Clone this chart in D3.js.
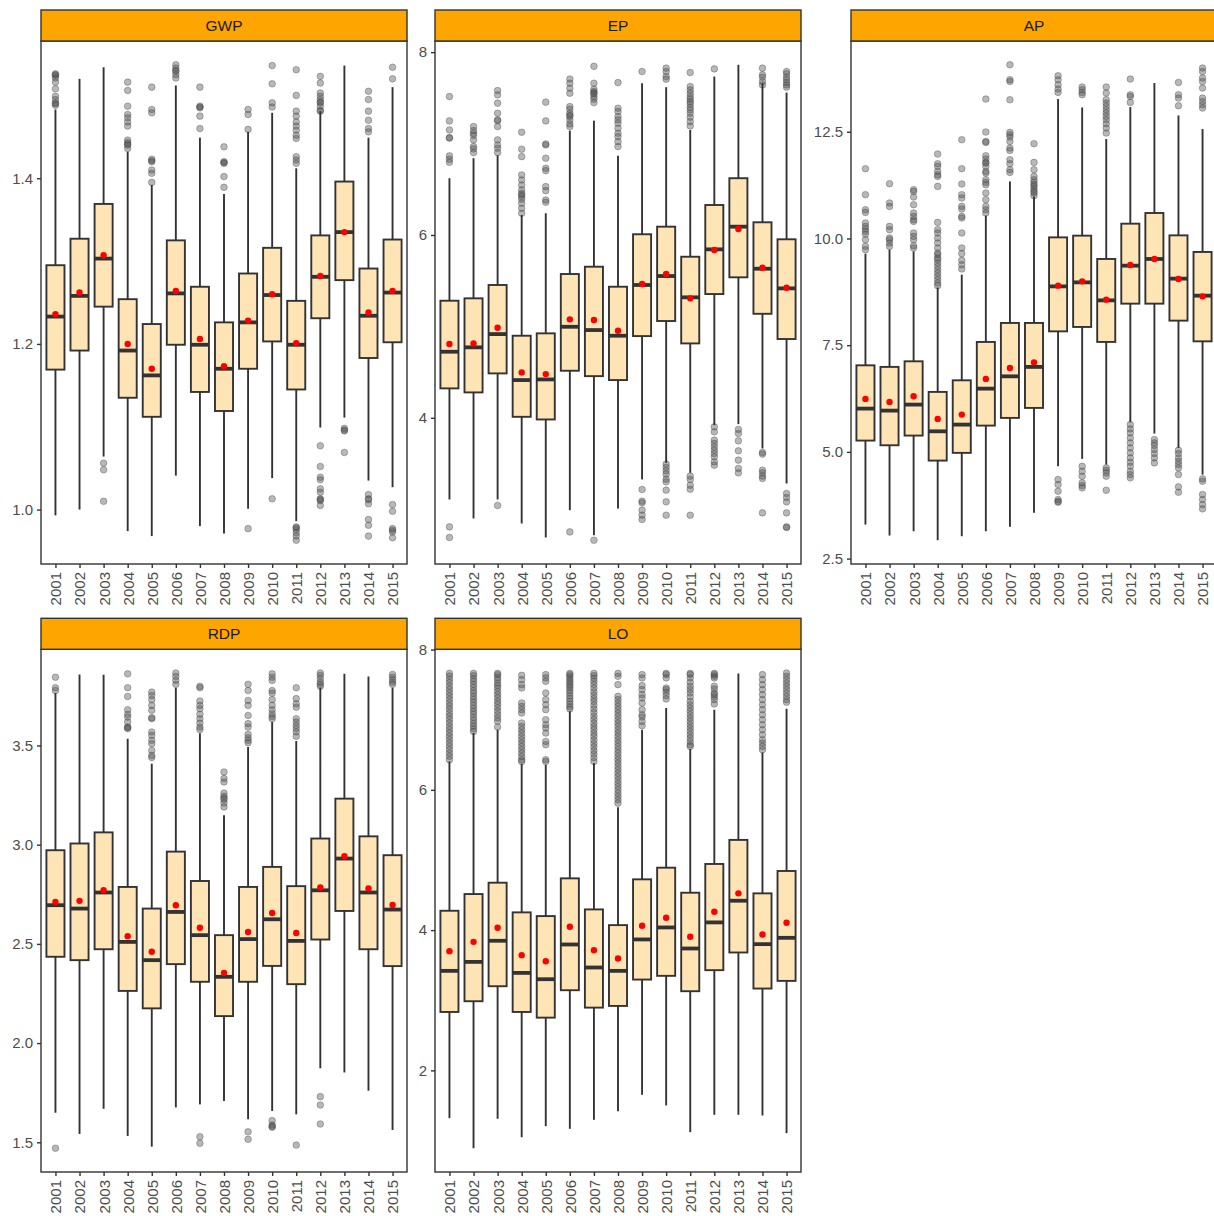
<!DOCTYPE html>
<html>
<head>
<meta charset="utf-8">
<script src="https://cdn.jsdelivr.net/npm/d3@7"></script>
<style>
  body { margin: 0; background: #fff; }
  svg { display: block; }
  text { font-family: "Liberation Sans", Arial, Helvetica, sans-serif; }
</style>
</head>
<body>
<svg id="chart" width="1214" height="1216"></svg>
<script>
// ---- Data: yearly distributions of five indicators (box-plot summaries) ----
const years = ["2001","2002","2003","2004","2005","2006","2007","2008","2009","2010","2011","2012","2013","2014","2015"];

// GWP
const gwpTicks  = [1.0, 1.2, 1.4];
const gwpLower  = [0.993, 1.000, 1.064, 0.974, 0.968, 1.041, 0.980, 0.971, 1.001, 1.038, 0.986, 1.099, 1.111, 1.035, 1.027];
const gwpQ1     = [1.169, 1.192, 1.245, 1.135, 1.112, 1.199, 1.142, 1.119, 1.170, 1.203, 1.145, 1.231, 1.277, 1.183, 1.202];
const gwpMedian = [1.233, 1.258, 1.303, 1.192, 1.162, 1.261, 1.199, 1.170, 1.226, 1.259, 1.199, 1.281, 1.335, 1.234, 1.262];
const gwpQ3     = [1.295, 1.327, 1.369, 1.254, 1.224, 1.325, 1.269, 1.226, 1.285, 1.316, 1.252, 1.331, 1.396, 1.291, 1.326];
const gwpUpper  = [1.483, 1.520, 1.534, 1.432, 1.392, 1.512, 1.449, 1.381, 1.456, 1.479, 1.412, 1.481, 1.536, 1.449, 1.510];
const gwpMean   = [1.236, 1.262, 1.307, 1.200, 1.170, 1.264, 1.206, 1.173, 1.228, 1.260, 1.201, 1.282, 1.335, 1.238, 1.264];
const gwpOutliers = [
  [1.526, 1.525, 1.524, 1.521, 1.516, 1.508, 1.499, 1.495, 1.491, 1.490, 1.488],
  [],
  [1.056, 1.048, 1.010],
  [1.516, 1.506, 1.487, 1.477, 1.473, 1.468, 1.463, 1.446, 1.443, 1.441, 1.440, 1.436],
  [1.510, 1.483, 1.479, 1.423, 1.421, 1.420, 1.410, 1.406, 1.395],
  [1.537, 1.533, 1.530, 1.529, 1.525, 1.521],
  [1.510, 1.487, 1.486, 1.485, 1.475, 1.460],
  [1.438, 1.420, 1.419, 1.418, 1.402, 1.389],
  [1.483, 1.477, 1.459, 0.977],
  [1.536, 1.514, 1.491, 1.486, 1.013],
  [1.531, 1.500, 1.481, 1.475, 1.468, 1.463, 1.458, 1.452, 1.448, 1.426, 1.422, 1.418, 0.979, 0.978, 0.976, 0.972, 0.968, 0.963],
  [1.523, 1.515, 1.503, 1.499, 1.495, 1.492, 1.491, 1.487, 1.482, 1.481, 1.077, 1.052, 1.039, 1.036, 1.025, 1.021, 1.013, 1.012, 1.011, 1.005],
  [1.098, 1.096, 1.095, 1.069],
  [1.505, 1.495, 1.481, 1.470, 1.460, 1.456, 1.018, 1.013, 1.012, 1.007, 0.988, 0.981, 0.968],
  [1.534, 1.520, 1.006, 0.998, 0.977, 0.975, 0.973, 0.966]
];

// EP
const epTicks  = [4, 6, 8];
const epLower  = [3.107, 2.899, 3.107, 2.844, 2.691, 2.990, 2.716, 3.008, 3.326, 3.507, 3.398, 3.920, 3.931, 3.665, 3.282];
const epQ1     = [4.322, 4.278, 4.486, 4.011, 3.982, 4.515, 4.456, 4.413, 4.894, 5.059, 4.814, 5.354, 5.537, 5.138, 4.862];
const epMedian = [4.723, 4.771, 4.916, 4.413, 4.420, 4.996, 4.960, 4.898, 5.453, 5.551, 5.318, 5.843, 6.091, 5.631, 5.416];
const epQ3     = [5.281, 5.307, 5.453, 4.898, 4.924, 5.573, 5.653, 5.434, 6.008, 6.091, 5.762, 6.328, 6.621, 6.139, 5.953];
const epUpper  = [6.621, 6.840, 6.872, 6.219, 6.238, 7.142, 7.251, 6.868, 7.660, 7.617, 7.149, 7.733, 7.862, 7.660, 7.558];
const epMean   = [4.807, 4.814, 4.985, 4.497, 4.478, 5.077, 5.070, 4.952, 5.464, 5.573, 5.307, 5.836, 6.066, 5.642, 5.423];
const epOutliers = [
  [7.514, 7.248, 7.149, 7.065, 7.060, 6.865, 6.829, 6.796, 2.807, 2.691],
  [7.186, 7.142, 7.113, 7.090, 7.040, 6.967, 6.942, 6.901],
  [7.580, 7.533, 7.442, 7.332, 7.259, 7.250, 7.186, 7.040, 6.985, 6.949, 6.901, 3.041],
  [7.124, 6.938, 6.857, 6.657, 6.602, 6.547, 6.493, 6.456, 6.440, 6.419, 6.391, 6.347, 6.292, 6.238],
  [7.453, 7.248, 6.996, 6.985, 6.840, 6.730, 6.704, 6.529, 6.485, 6.383, 6.358],
  [7.706, 7.660, 7.606, 7.551, 7.405, 7.376, 7.332, 7.310, 7.295, 7.259, 7.215, 7.186, 2.752],
  [7.845, 7.660, 7.595, 7.569, 7.555, 7.544, 7.514, 7.486, 7.448, 2.661],
  [7.667, 7.387, 7.350, 7.295, 7.259, 7.223, 7.168, 7.113, 7.076, 7.021, 6.967],
  [7.788, 3.216, 3.088, 3.070, 2.990, 2.935, 2.888],
  [7.825, 7.788, 7.733, 7.705, 3.493, 3.457, 3.420, 3.384, 3.329, 3.300, 3.209, 3.081, 2.935],
  [7.777, 7.623, 7.587, 7.551, 7.514, 7.486, 7.459, 7.434, 7.398, 7.368, 7.332, 7.288, 7.240, 7.193, 3.362, 3.326, 3.263, 3.219, 2.935],
  [7.817, 3.901, 3.847, 3.756, 3.720, 3.683, 3.646, 3.610, 3.573, 3.518, 3.482],
  [3.873, 3.829, 3.748, 3.639, 3.537, 3.446, 3.398],
  [7.825, 7.752, 7.726, 7.678, 7.642, 3.621, 3.603, 3.427, 3.398, 3.362, 3.337, 2.960],
  [7.788, 7.763, 7.726, 7.697, 7.667, 7.642, 7.617, 3.172, 3.129, 3.081, 2.960, 2.807, 2.800]
];

// AP
const apTicks  = [2.5, 5.0, 7.5, 10.0, 12.5];
const apLower  = [3.297, 3.040, 3.140, 2.930, 3.024, 3.140, 3.244, 3.571, 4.663, 4.836, 4.703, 5.693, 5.429, 5.094, 4.468];
const apQ1     = [5.265, 5.155, 5.382, 4.796, 4.977, 5.616, 5.796, 6.030, 7.824, 7.927, 7.576, 8.473, 8.473, 8.075, 7.590];
const apMedian = [6.014, 5.967, 6.108, 5.482, 5.639, 6.482, 6.770, 6.991, 8.878, 8.972, 8.550, 9.363, 9.520, 9.059, 8.660];
const apQ3     = [7.028, 6.991, 7.122, 6.405, 6.677, 7.576, 8.021, 8.021, 10.026, 10.066, 9.520, 10.347, 10.597, 10.073, 9.684];
const apUpper  = [9.644, 9.738, 9.698, 8.850, 9.152, 10.534, 11.337, 10.986, 13.267, 13.070, 12.330, 13.079, 13.642, 12.883, 12.564];
const apMean   = [6.241, 6.171, 6.302, 5.773, 5.874, 6.710, 6.967, 7.098, 8.895, 8.995, 8.567, 9.379, 9.520, 9.052, 8.644];
const apOutliers = [
  [11.635, 11.026, 10.674, 10.611, 10.363, 10.283, 10.222, 10.166, 10.100, 9.972, 9.815, 9.738],
  [11.283, 10.831, 10.752, 10.283, 10.206, 10.012, 9.972, 9.895, 9.815],
  [11.143, 11.103, 10.972, 10.792, 10.597, 10.517, 10.440, 10.400, 10.129, 10.049, 9.972, 9.831, 9.778],
  [11.979, 11.752, 11.689, 11.571, 11.494, 11.454, 11.220, 10.377, 10.206, 10.129, 10.012, 9.895, 9.778, 9.660, 9.621, 9.543, 9.504, 9.426, 9.347, 9.269, 9.192, 9.112, 9.035, 8.958, 8.895],
  [12.314, 11.635, 11.276, 11.026, 10.948, 10.752, 10.691, 10.518, 10.480, 10.129, 9.778, 9.644, 9.487, 9.386, 9.286],
  [13.267, 12.494, 12.274, 12.251, 11.939, 11.862, 11.782, 11.768, 11.689, 11.571, 11.534, 11.377, 11.314, 11.260, 11.066, 10.909, 10.752, 10.674, 10.597],
  [14.070, 13.719, 13.679, 13.250, 12.485, 12.431, 12.377, 12.274, 12.119, 12.063, 11.845, 11.752, 11.611, 11.548],
  [12.220, 11.782, 11.611, 11.454, 11.377, 11.314, 11.260, 11.220, 11.159, 11.103, 11.066, 11.002],
  [13.813, 13.719, 13.602, 13.501, 13.422, 4.351, 4.234, 4.077, 3.883, 3.840, 3.820],
  [13.548, 13.485, 13.422, 13.368, 4.663, 4.546, 4.429, 4.274, 4.211, 4.157],
  [13.548, 13.407, 13.251, 13.173, 13.094, 13.016, 12.939, 12.860, 12.782, 12.689, 12.588, 12.471, 4.625, 4.569, 4.508, 4.429, 4.101],
  [13.735, 13.368, 13.328, 13.188, 5.639, 5.539, 5.445, 5.328, 5.211, 5.094, 4.977, 4.859, 4.757, 4.663, 4.546, 4.468, 4.391],
  [5.288, 5.211, 5.148, 5.054, 4.960, 4.859, 4.742],
  [13.656, 13.368, 13.290, 13.110, 5.037, 4.960, 4.859, 4.780, 4.703, 4.625, 4.468, 4.180, 4.054],
  [13.993, 13.913, 13.759, 13.679, 13.525, 13.290, 13.211, 13.134, 13.056, 4.368, 4.312, 4.000, 3.883, 3.766, 3.665]
];

// RDP
const rdpTicks  = [1.5, 2.0, 2.5, 3.0, 3.5];
const rdpLower  = [1.649, 1.542, 1.669, 1.532, 1.478, 1.676, 1.691, 1.708, 1.616, 1.658, 1.641, 1.873, 1.852, 1.760, 1.562];
const rdpQ1     = [2.435, 2.418, 2.473, 2.263, 2.175, 2.398, 2.309, 2.136, 2.309, 2.389, 2.297, 2.522, 2.666, 2.473, 2.388];
const rdpMedian = [2.695, 2.678, 2.759, 2.510, 2.418, 2.661, 2.544, 2.334, 2.524, 2.624, 2.515, 2.770, 2.930, 2.759, 2.673];
const rdpQ3     = [2.972, 3.006, 3.062, 2.787, 2.678, 2.965, 2.817, 2.544, 2.787, 2.888, 2.791, 3.031, 3.232, 3.042, 2.947];
const rdpUpper  = [3.764, 3.858, 3.856, 3.534, 3.408, 3.791, 3.562, 3.148, 3.492, 3.618, 3.522, 3.791, 3.861, 3.848, 3.791];
const rdpMean   = [2.711, 2.717, 2.770, 2.539, 2.460, 2.695, 2.581, 2.354, 2.560, 2.656, 2.555, 2.784, 2.942, 2.779, 2.696];
const rdpOutliers = [
  [3.844, 3.791, 3.777, 1.470],
  [],
  [],
  [3.861, 3.791, 3.747, 3.680, 3.657, 3.643, 3.618, 3.593, 3.590, 3.585],
  [3.769, 3.752, 3.731, 3.702, 3.677, 3.640, 3.635, 3.568, 3.551, 3.526, 3.509, 3.475, 3.450, 3.439],
  [3.865, 3.848, 3.828, 3.808],
  [3.798, 3.791, 3.724, 3.702, 3.685, 3.657, 3.635, 3.613, 3.593, 3.580, 1.528, 1.495],
  [3.366, 3.333, 3.316, 3.260, 3.244, 3.235, 3.227, 3.210, 3.190],
  [3.808, 3.777, 3.727, 3.702, 3.651, 3.610, 3.593, 3.556, 3.539, 3.526, 3.514, 1.553, 1.515],
  [3.861, 3.844, 3.828, 3.777, 3.764, 3.731, 3.702, 3.680, 3.660, 3.646, 3.635, 1.609, 1.587, 1.580, 1.576],
  [3.791, 3.736, 3.710, 3.693, 3.635, 3.618, 3.601, 3.585, 3.568, 3.546, 1.486],
  [3.865, 3.853, 3.836, 3.819, 3.808, 3.798, 1.730, 1.688, 1.592],
  [],
  [],
  [3.858, 3.844, 3.831, 3.819, 3.808]
];

// LO
const loTicks  = [2, 4, 6, 8];
const loLower  = [1.319, 0.890, 1.310, 1.047, 1.205, 1.167, 1.295, 1.419, 1.652, 1.500, 1.119, 1.367, 1.367, 1.357, 1.105];
const loQ1     = [2.833, 2.986, 3.200, 2.833, 2.752, 3.143, 2.895, 2.919, 3.295, 3.348, 3.129, 3.429, 3.681, 3.167, 3.276];
const loMedian = [3.419, 3.547, 3.848, 3.390, 3.300, 3.795, 3.467, 3.419, 3.867, 4.038, 3.738, 4.110, 4.419, 3.800, 3.890];
const loQ3     = [4.276, 4.514, 4.676, 4.253, 4.200, 4.738, 4.295, 4.071, 4.724, 4.890, 4.533, 4.943, 5.286, 4.524, 4.843];
const loUpper  = [6.404, 6.810, 6.857, 6.371, 6.357, 7.119, 6.381, 5.752, 6.857, 7.167, 6.581, 7.143, 7.657, 6.533, 7.157];
const loMean   = [3.700, 3.833, 4.033, 3.643, 3.557, 4.048, 3.714, 3.595, 4.062, 4.176, 3.905, 4.262, 4.524, 3.938, 4.105];
const loOutliers = [
  [7.660, 7.622, 7.575, 7.531, 7.480, 7.433, 7.386, 7.339, 7.290, 7.241, 7.196, 7.149, 7.098, 7.051, 7.004, 6.956, 6.905, 6.861, 6.812, 6.765, 6.716, 6.669, 6.622, 6.574, 6.523, 6.478, 6.429],
  [7.660, 7.628, 7.584, 7.547, 7.503, 7.462, 7.414, 7.378, 7.331, 7.292, 7.249, 7.204, 7.162, 7.119, 7.081, 7.034, 6.992, 6.948, 6.909, 6.871, 6.833],
  [7.660, 7.641, 7.603, 7.568, 7.522, 7.488, 7.451, 7.403, 7.358, 7.313, 7.262, 7.219, 7.171, 7.122, 7.071, 7.024, 6.978, 6.896],
  [7.633, 7.571, 7.500, 7.453, 7.239, 7.190, 7.143, 7.096, 6.953, 6.904, 6.857, 6.810, 6.761, 6.714, 6.667, 6.619, 6.571, 6.524, 6.476, 6.429, 6.404],
  [7.643, 7.596, 7.547, 7.381, 7.286, 7.214, 7.143, 7.000, 6.929, 6.881, 6.810, 6.690, 6.643, 6.429, 6.404],
  [7.660, 7.641, 7.612, 7.581, 7.548, 7.519, 7.488, 7.457, 7.421, 7.382, 7.341, 7.302, 7.261, 7.222, 7.183, 7.153],
  [7.660, 7.628, 7.591, 7.547, 7.502, 7.452, 7.398, 7.351, 7.302, 7.258, 7.207, 7.153, 7.101, 7.049, 7.002, 6.951, 6.903, 6.858, 6.807, 6.762, 6.709, 6.661, 6.612, 6.559, 6.511, 6.458, 6.404],
  [7.660, 7.619, 7.500, 7.333, 7.286, 7.238, 7.190, 7.143, 7.095, 7.048, 7.000, 6.952, 6.905, 6.857, 6.810, 6.762, 6.714, 6.667, 6.619, 6.571, 6.524, 6.476, 6.429, 6.381, 6.333, 6.286, 6.238, 6.190, 6.143, 6.095, 6.048, 6.000, 5.952, 5.905, 5.857, 5.810],
  [7.643, 7.595, 7.486, 7.429, 7.357, 7.310, 7.238, 7.143, 7.071, 7.038, 6.976, 6.914],
  [7.660, 7.643, 7.596, 7.452, 7.429, 7.390, 7.343, 7.295],
  [7.660, 7.643, 7.595, 7.533, 7.476, 7.429, 7.381, 7.324, 7.262, 7.214, 7.167, 7.119, 7.071, 7.024, 6.976, 6.929, 6.881, 6.833, 6.786, 6.738, 6.690, 6.643, 6.619],
  [7.660, 7.643, 7.619, 7.596, 7.476, 7.438, 7.381, 7.357, 7.324, 7.286, 7.224],
  [],
  [7.643, 7.571, 7.500, 7.429, 7.357, 7.286, 7.214, 7.143, 7.071, 7.000, 6.929, 6.857, 6.786, 6.714, 6.667, 6.619, 6.571],
  [7.665, 7.619, 7.571, 7.524, 7.476, 7.429, 7.381, 7.333, 7.286, 7.248]
];

// ---- Panels (facet grid, free y scales) ----
const panels = [
  { name: "GWP", col: 0, row: 0, fmt: ".1f", ticks: gwpTicks, lower: gwpLower, q1: gwpQ1, median: gwpMedian, q3: gwpQ3, upper: gwpUpper, mean: gwpMean, outliers: gwpOutliers },
  { name: "EP",  col: 1, row: 0, fmt: "d",   ticks: epTicks,  lower: epLower,  q1: epQ1,  median: epMedian,  q3: epQ3,  upper: epUpper,  mean: epMean,  outliers: epOutliers },
  { name: "AP",  col: 2, row: 0, fmt: ".1f", ticks: apTicks,  lower: apLower,  q1: apQ1,  median: apMedian,  q3: apQ3,  upper: apUpper,  mean: apMean,  outliers: apOutliers },
  { name: "RDP", col: 0, row: 1, fmt: ".1f", ticks: rdpTicks, lower: rdpLower, q1: rdpQ1, median: rdpMedian, q3: rdpQ3, upper: rdpUpper, mean: rdpMean, outliers: rdpOutliers },
  { name: "LO",  col: 1, row: 1, fmt: "d",   ticks: loTicks,  lower: loLower,  q1: loQ1,  median: loMedian,  q3: loQ3,  upper: loUpper,  mean: loMean,  outliers: loOutliers }
];

// ---- Layout ----
const colLeft = [41, 435, 851];
const rowTop = [41, 649.3];
const rowBottom = [564, 1172];
const panelW = 366;
const stripH = 31;
const ink = "#333333";
const boxFill = "#FFE4B5";
const stripFill = "#FFA500";
const FONT = 15;

const svg = d3.select("#chart");
svg.append("rect").attr("width", 1214).attr("height", 1216).attr("fill", "#fff");

panels.forEach((p, pi) => {
  const left = colLeft[p.col];
  const top = rowTop[p.row];
  const h = rowBottom[p.row] - top;
  const g = svg.append("g").attr("transform", `translate(${left},${top})`);

  const x = d3.scalePoint().domain(years).range([0, panelW]).padding(0.6);
  const bw = x.step() * 0.75;

  const all = p.lower.concat(p.upper, p.outliers.flat());
  const [mn, mx] = d3.extent(all);
  const pad = (mx - mn) * 0.05;
  const y = d3.scaleLinear().domain([mn - pad, mx + pad]).range([h, 0]);

  const clipId = "clip" + pi;
  g.append("clipPath").attr("id", clipId)
    .append("rect").attr("width", panelW).attr("height", h);

  const plot = g.append("g").attr("clip-path", `url(#${clipId})`);
  plot.append("rect").attr("width", panelW).attr("height", h).attr("fill", "#fff");

  const rows = years.map((yr, i) => ({
    yr, lower: p.lower[i], q1: p.q1[i], median: p.median[i], q3: p.q3[i],
    upper: p.upper[i], mean: p.mean[i], outliers: p.outliers[i]
  }));

  const grp = plot.selectAll("g.box").data(rows).join("g").attr("class", "box")
    .attr("transform", d => `translate(${x(d.yr)},0)`);

  // outliers
  grp.selectAll("circle.out").data(d => d.outliers).join("circle").attr("class", "out")
    .attr("cx", 0).attr("cy", v => y(v)).attr("r", 3.3)
    .attr("fill", "#4d4d4d").attr("fill-opacity", 0.4)
    .attr("stroke", "#4d4d4d").attr("stroke-opacity", 0.4).attr("stroke-width", 1);

  // whiskers
  grp.append("line").attr("x1", 0).attr("x2", 0)
    .attr("y1", d => y(d.upper)).attr("y2", d => y(d.q3))
    .attr("stroke", ink).attr("stroke-width", 1.9);
  grp.append("line").attr("x1", 0).attr("x2", 0)
    .attr("y1", d => y(d.q1)).attr("y2", d => y(d.lower))
    .attr("stroke", ink).attr("stroke-width", 1.9);

  // box
  grp.append("rect")
    .attr("x", -bw / 2).attr("width", bw)
    .attr("y", d => y(d.q3)).attr("height", d => y(d.q1) - y(d.q3))
    .attr("fill", boxFill).attr("stroke", ink).attr("stroke-width", 1.9);

  // median
  grp.append("line").attr("x1", -bw / 2).attr("x2", bw / 2)
    .attr("y1", d => y(d.median)).attr("y2", d => y(d.median))
    .attr("stroke", ink).attr("stroke-width", 3.8);

  // mean
  grp.append("circle").attr("cx", 0).attr("cy", d => y(d.mean)).attr("r", 3.2)
    .attr("fill", "#FF0000");

  // panel border
  g.append("rect").attr("width", panelW).attr("height", h)
    .attr("fill", "none").attr("stroke", ink).attr("stroke-width", 1.4);

  // strip
  g.append("rect").attr("x", 0).attr("y", -stripH).attr("width", panelW).attr("height", stripH)
    .attr("fill", stripFill).attr("stroke", ink).attr("stroke-width", 1.4);
  g.append("text").attr("x", panelW / 2).attr("y", -stripH / 2)
    .attr("text-anchor", "middle").attr("dy", "0.36em")
    .attr("font-size", FONT + 0.5).attr("fill", "#1a1a1a").text(p.name);

  // y axis
  const ya = g.append("g").call(
    d3.axisLeft(y).tickValues(p.ticks).tickSize(4).tickPadding(4).tickFormat(d3.format(p.fmt))
  );
  ya.select(".domain").remove();
  ya.selectAll(".tick line").attr("stroke", ink).attr("stroke-width", 1.4);
  ya.selectAll(".tick text").attr("fill", "#4d4d4d").attr("font-size", FONT)
    .attr("font-family", "\"Liberation Sans\", Arial, sans-serif");

  // x axis
  const xa = g.append("g").attr("transform", `translate(0,${h})`).call(
    d3.axisBottom(x).tickSize(4).tickPadding(4)
  );
  xa.select(".domain").remove();
  xa.selectAll(".tick line").attr("stroke", ink).attr("stroke-width", 1.4);
  xa.selectAll(".tick text")
    .attr("fill", "#4d4d4d").attr("font-size", FONT)
    .attr("font-family", "\"Liberation Sans\", Arial, sans-serif")
    .attr("transform", "rotate(-90)")
    .attr("text-anchor", "end")
    .attr("x", -8).attr("y", 0).attr("dy", "0.36em");
});
</script>
</body>
</html>
